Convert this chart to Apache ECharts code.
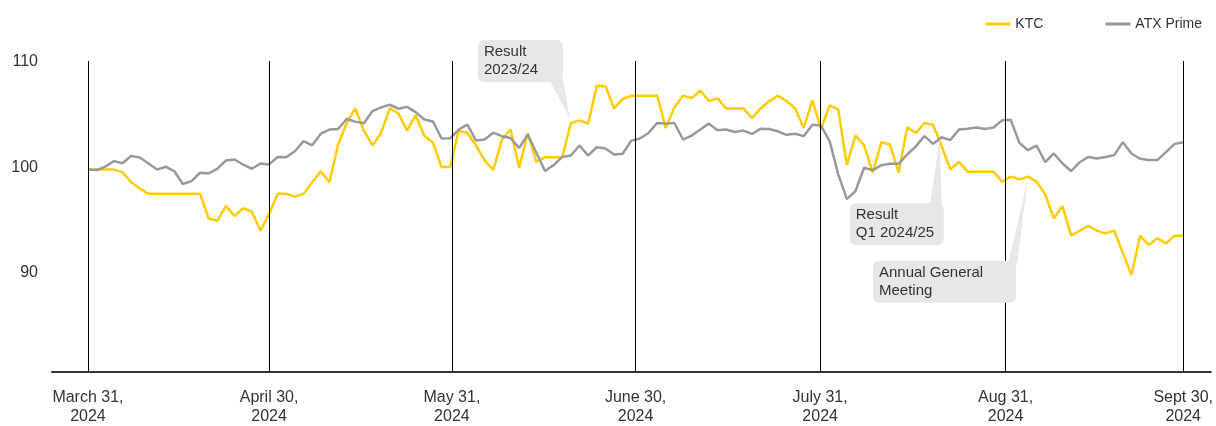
<!DOCTYPE html>
<html><head><meta charset="utf-8">
<script src="https://cdn.jsdelivr.net/npm/echarts@6/dist/echarts.min.js"></script>
<style>html,body{margin:0;padding:0;background:#fff}#c{width:1216px;height:426px}</style>
</head><body><div id="c"></div>
<script>
// KTC share price (indexed, 31 March 2024 = 100), one point per trading day
const ktc = [
  99.7, 99.7, 99.7, 99.7, 99.46, 98.52, 97.9, 97.4, 97.4, 97.4,
  97.4, 97.4, 97.4, 97.4, 95.06, 94.84, 96.26, 95.3, 96.04, 95.7,
  93.9, 95.47, 97.4, 97.4, 97.14, 97.4, 98.5, 99.53, 98.5, 102.08,
  104.1, 105.5, 103.4, 102.0, 103.2, 105.5, 105.03, 103.4, 104.87, 102.9,
  102.27, 99.94, 99.94, 103.4, 103.17, 101.98, 100.57, 99.66, 102.55, 103.5,
  99.87, 103.17, 100.44, 100.88, 100.88, 100.88, 104.12, 104.37, 104.06, 107.64,
  107.64, 105.5, 106.4, 106.7, 106.7, 106.7, 106.7, 103.65, 105.6, 106.7,
  106.48, 107.2, 106.2, 106.48, 105.5, 105.5, 105.5, 104.6, 105.5, 106.2,
  106.7, 106.2, 105.5, 103.65, 106.27, 103.55, 105.8, 105.4, 100.12, 102.95,
  102.0, 99.4, 102.3, 102.08, 99.4, 103.7, 103.17, 104.12, 103.96, 101.9,
  99.7, 100.44, 99.5, 99.5, 99.5, 99.5, 98.56, 99.03, 98.77, 99.03,
  98.56, 97.36, 95.06, 96.26, 93.43, 93.9, 94.37, 93.9, 93.65, 93.9,
  91.8, 89.7, 93.43, 92.55, 93.18, 92.7, 93.43, 93.43
];
// ATX Prime (indexed)
const atx = [
  99.7, 99.65, 99.97, 100.5, 100.3, 101.0, 100.85, 100.3, 99.7, 99.97,
  99.56, 98.33, 98.6, 99.4, 99.34, 99.78, 100.57, 100.66, 100.16, 99.78,
  100.28, 100.19, 100.9, 100.88, 101.44, 102.4, 102.0, 103.1, 103.5, 103.55,
  104.5, 104.25, 104.1, 105.25, 105.6, 105.85, 105.47, 105.65, 105.15, 104.45,
  104.27, 102.65, 102.67, 103.5, 103.96, 102.45, 102.55, 103.2, 102.87, 102.7,
  101.76, 103.0, 101.3, 99.56, 100.13, 100.9, 101.04, 101.98, 101.04, 101.82,
  101.7, 101.13, 101.2, 102.45, 102.65, 103.17, 104.12, 104.06, 104.12, 102.55,
  102.92, 103.5, 104.06, 103.43, 103.5, 103.27, 103.4, 103.08, 103.58, 103.55,
  103.33, 103.0, 103.1, 102.87, 103.96, 103.87, 102.4, 99.25, 96.9, 97.67,
  99.87, 99.65, 100.12, 100.25, 100.25, 101.13, 101.9, 102.87, 102.14, 102.77,
  102.5, 103.5, 103.58, 103.7, 103.55, 103.7, 104.37, 104.43, 102.23, 101.54,
  101.98, 100.4, 101.23, 100.28, 99.56, 100.4, 100.9, 100.75, 100.9, 101.07,
  102.3, 101.23, 100.72, 100.6, 100.6, 101.35, 102.14, 102.3
];
// month-end positions (in trading-day index units) and their labels
const monthPos = [0, 21, 42.2, 63.5, 84.9, 106.4, 127];
const monthLabels = ['March 31,\n2024', 'April 30,\n2024', 'May 31,\n2024', 'June 30,\n2024', 'July 31,\n2024', 'Aug 31,\n2024', 'Sept 30,\n2024'];
const yTicks = [90, 100, 110];
const seriesNames = ['KTC', 'ATX Prime'];
// callouts: text, which series, trading-day index they point to
const noteTexts = ['Result\n2023/24', 'Result\nQ1 2024/25', 'Annual General\nMeeting'];
const noteSeries = ['ktc', 'atx', 'ktc'];
const noteIndex = [56, 99, 109];

const FONT = '"Liberation Sans", Arial, sans-serif';
const TXT = '#333333';
const chart = echarts.init(document.getElementById('c'), null, {renderer: 'canvas'});

const option = {
  animation: false,
  backgroundColor: '#ffffff',
  textStyle: {fontFamily: FONT},
  grid: {left: 52, right: 4, top: 61, bottom: 53},
  legend: {
    right: 9, top: 12, itemGap: 62, itemWidth: 25, itemHeight: 3, icon: 'rect',
    textStyle: {fontSize: 14, color: TXT, fontFamily: FONT},
    data: seriesNames
  },
  xAxis: {
    type: 'value', min: -4.17, max: 130.2,
    splitLine: {show: false},
    axisLine: {show: true, lineStyle: {color: '#333', width: 2}},
    axisTick: {show: false},
    axisLabel: {
      customValues: monthPos, fontSize: 16, color: TXT, lineHeight: 19, margin: 16,
      fontFamily: FONT,
      formatter: v => { const i = monthPos.findIndex(p => Math.abs(p - v) < 0.01); return i >= 0 ? monthLabels[i] : ''; }
    }
  },
  yAxis: {
    type: 'value', min: 80.5, max: 110,
    splitLine: {show: false},
    axisLine: {show: false},
    axisTick: {show: false},
    axisLabel: {customValues: yTicks, fontSize: 16, color: TXT, margin: 14, fontFamily: FONT, verticalAlign: 'top', padding: [-7, 0, 0, 0]}
  },
  series: [
    {
      name: seriesNames[0], type: 'line', data: ktc.map((v, i) => [i, v]),
      symbol: 'none', lineStyle: {color: '#FFCC00', width: 2.5}, itemStyle: {color: '#FFCC00'},
      z: 3
    },
    {
      name: seriesNames[1], type: 'line', data: atx.map((v, i) => [i, v]),
      symbol: 'none', lineStyle: {color: '#999999', width: 2.5}, itemStyle: {color: '#999999'},
      z: 4,
      markLine: {
        silent: true, symbol: 'none', label: {show: false},
        lineStyle: {color: '#000', width: 1, type: 'solid'},
        data: monthPos.map(p => ({xAxis: p}))
      }
    }
  ]
};
chart.setOption(option);

// callout geometry relative to anchor point: box [dx, dy, w, h], tail polygon offsets
const noteBox = [[-93, -83, 85, 42], [-92, 66, 94, 42], [-155, 84, 143, 42]];
const noteTail = [
  [[-22, -44], [-8, -44], [-1, -4]],
  [[-12, 70], [0, 70], [-2, 1]],
  [[-20, 88], [-11, 88], [0, 1]]
];
const els = [];
noteTexts.forEach((t, k) => {
  const arr = noteSeries[k] === 'ktc' ? ktc : atx;
  const p = chart.convertToPixel({gridIndex: 0}, [noteIndex[k], arr[noteIndex[k]]]);
  const b = noteBox[k];
  const bx = p[0] + b[0], by = p[1] + b[1];
  els.push({type: 'polygon', z: 100, shape: {points: noteTail[k].map(o => [p[0] + o[0], p[1] + o[1]])}, style: {fill: '#E6E7E8'}});
  els.push({type: 'rect', z: 100, shape: {x: bx, y: by, width: b[2], height: b[3], r: 6}, style: {fill: '#E6E7E8'}});
  els.push({type: 'text', z: 101, x: bx + 6, y: by + 3, style: {text: t, fill: TXT, font: '15px ' + FONT, lineHeight: 18, verticalAlign: 'top'}});
});
chart.setOption({graphic: els});
</script>
</body></html>
